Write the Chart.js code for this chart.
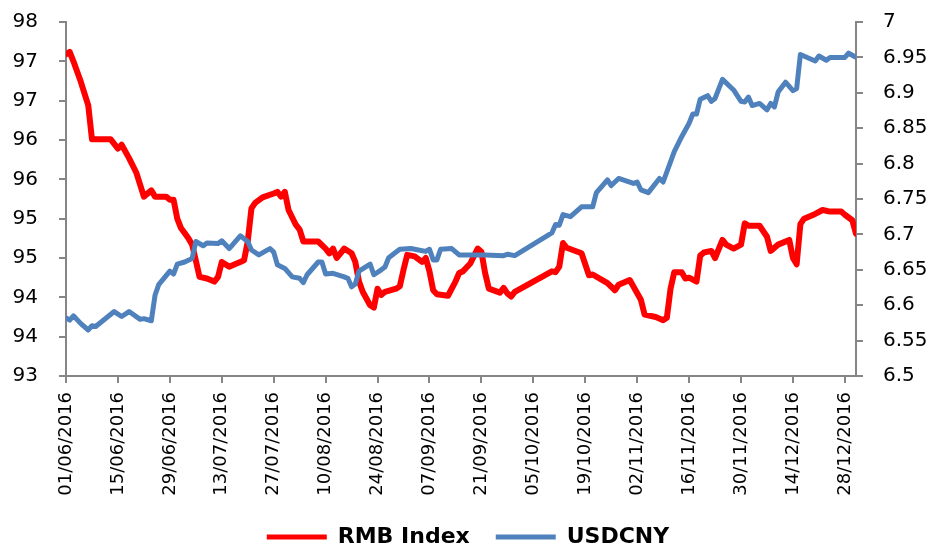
<!DOCTYPE html>
<html>
<head>
<meta charset="utf-8">
<script src="https://cdn.jsdelivr.net/npm/chart.js@4.4.1/dist/chart.umd.min.js"></script>
<style>
  body { margin: 0; background: #fff; }
  #wrap { width: 936px; height: 550px; }
</style>
</head>
<body>
<div id="wrap"><canvas id="chart" width="936" height="550"></canvas></div>
<script>
// x is days since 01/06/2016
const tickDays = [0, 14, 28, 42, 56, 70, 84, 98, 112, 126, 140, 154, 168, 182, 196, 210];
const tickLabels = ['01/06/2016', '15/06/2016', '29/06/2016', '13/07/2016', '27/07/2016', '10/08/2016',
    '24/08/2016', '07/09/2016', '21/09/2016', '05/10/2016', '19/10/2016', '02/11/2016',
    '16/11/2016', '30/11/2016', '14/12/2016', '28/12/2016'];

const rmbDays = [0, 1, 2, 4, 6, 7, 12, 14, 15, 17, 19, 21, 23, 24, 27, 28, 29, 30, 31, 33, 34, 35, 36, 38, 40,
    41, 42, 44, 46, 47, 48, 49, 50, 51, 53, 56, 57, 58, 59, 60, 62, 63, 64, 65, 68, 70, 71, 72, 73, 74, 75,
    77, 78, 79, 80, 82, 83, 84, 85, 86, 89, 90, 91, 92, 94, 96, 97, 98, 99, 100, 103, 105, 106, 107, 109,
    111, 112, 113, 114, 117, 118, 119, 120, 121, 131, 132, 133, 134, 135, 139, 141, 142, 146, 148, 149,
    152, 155, 156, 159, 161, 162, 163, 164, 166, 167, 168, 170, 171, 172, 174, 175, 177, 178, 180, 182,
    183, 184, 187, 189, 190, 192, 195, 196, 197, 198, 199, 202, 204, 206, 209, 210, 212, 213];
const rmbValues = [97.34, 97.37, 97.25, 96.99, 96.69, 96.26, 96.26, 96.14, 96.19, 96.02, 95.83, 95.53, 95.61,
    95.53, 95.53, 95.49, 95.49, 95.25, 95.13, 95.00, 94.92, 94.72, 94.51, 94.49, 94.45,
    94.51, 94.70, 94.64, 94.68, 94.70, 94.72, 94.96, 95.38, 95.45, 95.52, 95.57, 95.59, 95.53, 95.59, 95.36,
    95.17, 95.11, 94.96, 94.96, 94.96, 94.87, 94.81, 94.87, 94.75, 94.81, 94.87,
    94.81, 94.70, 94.45, 94.32, 94.15, 94.12, 94.36, 94.28, 94.32, 94.36, 94.39, 94.60, 94.79, 94.77, 94.70,
    94.75, 94.58, 94.34, 94.29, 94.27, 94.45, 94.56, 94.58, 94.68,
    94.87, 94.83, 94.56, 94.36, 94.31, 94.37, 94.30, 94.26, 94.32, 94.58, 94.57, 94.64, 94.94, 94.88, 94.81,
    94.53, 94.54, 94.43, 94.34, 94.41,
    94.47, 94.22, 94.03, 94.00, 93.96, 93.99, 94.36, 94.57, 94.57, 94.49, 94.50, 94.45, 94.78, 94.82, 94.84,
    94.75, 94.98, 94.92, 94.87, 94.92,
    95.19, 95.16, 95.16, 95.02, 94.84, 94.92, 94.98, 94.75, 94.67, 95.18, 95.25, 95.31, 95.36, 95.34, 95.34,
    95.30, 95.23, 95.06];

const usdDays = [0, 1, 2, 4, 6, 7, 8, 13, 15, 17, 20, 21, 23, 24, 25, 28, 29, 30, 32, 34, 35, 37, 38, 41, 42,
    44, 47, 49, 50, 52, 54, 55, 56, 57, 59, 61, 63, 64, 65, 68, 69, 70, 72, 75, 76, 77, 78, 79, 82, 83, 85,
    86, 87, 89, 90, 93, 95, 97, 98, 99, 100, 101, 104, 106, 113, 118, 119, 121, 131, 132, 133, 134, 136,
    139, 142, 143, 146, 147, 149, 153, 154, 155, 157, 160, 161, 164, 166, 168, 169, 170, 171, 173, 174,
    175, 177, 180, 182, 183, 184, 185, 187, 189, 190, 191, 192, 194, 196, 197, 198, 202, 203, 205, 206,
    210, 211, 212, 213];
const usdValues = [6.582, 6.579, 6.585, 6.574, 6.565, 6.571, 6.570, 6.591, 6.584, 6.591, 6.580, 6.581, 6.578,
    6.614, 6.629, 6.648, 6.644, 6.658, 6.661, 6.666, 6.690, 6.684, 6.688, 6.687, 6.691,
    6.680, 6.698, 6.690, 6.678, 6.671, 6.677, 6.680, 6.675, 6.657, 6.652, 6.640, 6.638, 6.632, 6.643, 6.661,
    6.661, 6.644, 6.645, 6.640, 6.638, 6.626, 6.630, 6.648, 6.658, 6.643, 6.650,
    6.654, 6.667, 6.675, 6.679, 6.680, 6.678, 6.676, 6.679, 6.664, 6.664, 6.679, 6.680, 6.671, 6.671, 6.670,
    6.672, 6.670, 6.702, 6.714, 6.713, 6.728, 6.725,
    6.739, 6.739, 6.759, 6.777, 6.769, 6.779, 6.772, 6.774, 6.763, 6.759, 6.779, 6.774, 6.817, 6.838, 6.857,
    6.870, 6.870, 6.891, 6.896, 6.888,
    6.892, 6.919, 6.904, 6.888, 6.887, 6.894, 6.882, 6.885, 6.876, 6.885, 6.880, 6.901, 6.915, 6.903, 6.906,
    6.954, 6.945, 6.952, 6.946, 6.950,
    6.950, 6.956, 6.953, 6.950];

// left axis labels are rounded, so ticks sit on the quarter points
const leftTicks = [93.25, 93.75, 94.25, 94.75, 95.25, 95.75, 96.25, 96.75, 97.25, 97.75];
const rightTicks = [6.5, 6.55, 6.6, 6.65, 6.7, 6.75, 6.8, 6.85, 6.9, 6.95, 7];

const axisGray = '#868686';
const font = 'DejaVu Sans';

function toPoints(days, values) {
    return days.map((d, i) => ({ x: d, y: values[i] }));
}

function sideGrid() {
    return { drawOnChartArea: false, drawTicks: true, tickLength: 7, color: axisGray, lineWidth: 2 };
}

// fixed widths / heights so the plot area lands where it does in the original
function fixSize(w, h) {
    return (scale) => {
        if (w) scale.width = w;
        if (h) scale.height = h;
        scale.paddingTop = 0;
        scale.paddingBottom = 0;
        scale.paddingLeft = 0;
        scale.paddingRight = 0;
    };
}

const ctx = document.getElementById('chart').getContext('2d');
new Chart(ctx, {
    type: 'line',
    data: {
        datasets: [{
            label: 'RMB Index',
            data: toPoints(rmbDays, rmbValues),
            borderColor: '#FF0000',
            backgroundColor: '#FF0000',
            borderWidth: 6,
            yAxisID: 'y',
            order: 1
        }, {
            label: 'USDCNY',
            data: toPoints(usdDays, usdValues),
            borderColor: '#4F81BD',
            backgroundColor: '#4F81BD',
            borderWidth: 5,
            yAxisID: 'y1',
            order: 0
        }]
    },
    options: {
        responsive: false,
        animation: false,
        devicePixelRatio: 1,
        elements: {
            point: { radius: 0 },
            line: { tension: 0, borderJoinStyle: 'round', borderCapStyle: 'round' }
        },
        layout: { padding: { top: 22, left: 0, right: 0, bottom: -8 } },
        scales: {
            x: {
                type: 'linear',
                min: 0,
                max: 213,
                afterBuildTicks: (scale) => { scale.ticks = tickDays.map(v => ({ value: v })); },
                afterFit: fixSize(0, 124),
                ticks: {
                    autoSkip: false,
                    minRotation: 90,
                    maxRotation: 90,
                    padding: 9,
                    color: '#000',
                    font: { family: font, size: 18 },
                    callback: (v) => tickLabels[tickDays.indexOf(v)]
                },
                grid: sideGrid(),
                border: { display: true, color: axisGray, width: 2 }
            },
            y: {
                position: 'left',
                min: 93.25,
                max: 97.75,
                afterBuildTicks: (scale) => { scale.ticks = leftTicks.map(v => ({ value: v })); },
                afterFit: fixSize(66, 0),
                ticks: {
                    padding: 21,
                    color: '#000',
                    font: { family: font, size: 20 },
                    callback: (v) => Math.round(v)
                },
                grid: sideGrid(),
                border: { display: true, color: axisGray, width: 2 }
            },
            y1: {
                position: 'right',
                min: 6.5,
                max: 7,
                afterBuildTicks: (scale) => { scale.ticks = rightTicks.map(v => ({ value: v })); },
                afterFit: fixSize(80, 0),
                ticks: {
                    padding: 20,
                    color: '#000',
                    font: { family: font, size: 20 },
                    callback: (v) => String(+v.toFixed(2))
                },
                grid: sideGrid(),
                border: { display: true, color: axisGray, width: 2 }
            }
        },
        plugins: {
            tooltip: { enabled: false },
            legend: {
                position: 'bottom',
                labels: {
                    boxWidth: 60,
                    boxHeight: 5,
                    padding: 26,
                    color: '#000',
                    font: { family: font, size: 22, weight: 'bold', lineHeight: 1 },
                    sort: (a, b) => a.datasetIndex - b.datasetIndex,
                    generateLabels: (chart) => Chart.defaults.plugins.legend.labels.generateLabels(chart)
                        .map(l => Object.assign(l, { fillStyle: l.strokeStyle, lineWidth: 0 }))
                }
            }
        }
    }
});
</script>
</body>
</html>
